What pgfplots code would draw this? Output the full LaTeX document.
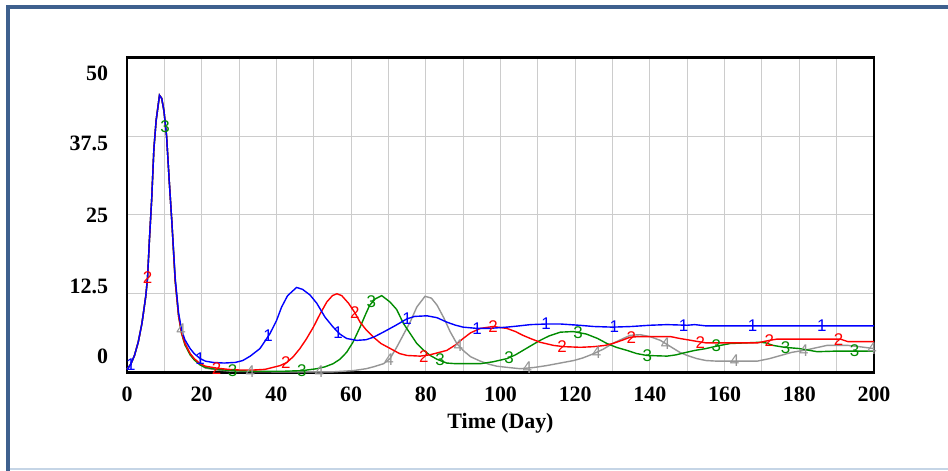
\documentclass[border=0pt]{standalone}
\usepackage{pgfplots}
\pgfplotsset{compat=1.18}
\usepackage{fontspec}
\setmainfont{Liberation Serif}
\newfontfamily\markfont{Liberation Sans}
\definecolor{framedark}{RGB}{62,96,142}
\definecolor{framelight}{RGB}{197,213,230}
\definecolor{gridgray}{RGB}{204,204,204}
\definecolor{sone}{RGB}{0,0,255}
\definecolor{stwo}{RGB}{255,0,0}
\definecolor{sthree}{RGB}{0,140,0}
\definecolor{sfour}{RGB}{150,150,150}
\pgfplotstableread{
x y
0 0.5
1 1.3
2 2.7
3 4.8
4 7.8
5 12
5.5 15
6 21
6.6 27.4
7.2 35.5
7.8 40
8.7 44
9.3 43.5
9.9 41.5
10.6 37.5
11.3 30.5
12 24
12.9 15
13.8 9.5
14.6 6.8
15.5 5.2
16.9 3.8
18 3.0
19.6 2.2
21 1.8
23 1.6
26 1.5
29 1.6
31 1.9
33 2.6
35.6 3.8
38.3 6.2
40 8.2
41.4 10.4
43 12.2
45.4 13.5
47 13.2
49 12.3
50.8 11
53 8.8
55.2 7.2
57 6.1
58.8 5.4
61.5 5.1
64 5.2
66 5.6
68.6 6.4
72 7.5
74.9 8.5
77 8.9
80.3 9.0
83 8.7
85.6 8.0
88 7.5
90 7.2
93.7 7.0
97 7.0
101.7 7.2
105 7.4
108 7.6
112.4 7.7
116 7.7
121 7.5
125 7.3
130 7.2
135 7.3
140 7.5
144.6 7.6
150 7.5
152 7.6
155 7.4
160 7.4
170 7.4
180 7.4
190 7.4
200 7.4
}\serone
\pgfplotstableread{
x y
0 0.5
1 1.3
2 2.7
3 4.8
4 7.8
5 12
5.5 15
6 21
6.6 27.4
7.2 35.5
7.8 40
8.7 44
9.3 43.5
9.9 41.5
10.6 37.5
11.3 30.5
12 24
12.9 14.5
13.8 9
14.6 6.3
15.5 4.6
16.9 3.0
18 2.2
19.6 1.4
21 1.0
24 0.7
27 0.5
30 0.4
34 0.4
37 0.5
39 0.8
41 1.1
42.8 1.6
44.5 2.5
46.3 3.8
48 5.3
49.9 7.2
51.7 9.3
53.5 11.2
55 12.2
56.2 12.5
57.5 12.2
59.3 11
61 9.5
62.4 8.0
64 6.8
66 5.6
68 4.6
70.5 3.8
73 3.0
75 2.7
78.5 2.6
81 2.8
83 3.1
85.6 3.5
88 4.4
90 5.4
92 6.3
94.6 7.0
98 7.3
101.7 7.0
104 6.5
106 5.9
108 5.4
110.6 4.8
114.2 4.3
117 4.1
121.4 4.0
125 4.1
128 4.3
130 4.6
132.5 5.1
134.7 5.6
137 5.7
141 5.7
145.5 5.7
148 5.4
152 5.0
155 4.7
160 4.7
168.8 4.7
172 5.1
174 5.3
180 5.3
191 5.3
193 4.9
200 4.9
}\sertwo
\pgfplotstableread{
x y
0 0.5
1 1.3
2 2.7
3 4.8
4 7.8
5 12
5.5 15
6 21
6.6 27.4
7.2 35.5
7.8 40
8.7 44
9.3 43.5
9.9 41.5
10.6 37.5
11.3 30.5
12 24
12.9 14.5
13.8 9
14.6 6.2
15.5 4.4
16.9 2.8
18 2.0
19.6 1.2
21 0.8
24 0.5
28 0.3
35 0.2
42 0.2
47 0.3
50.8 0.6
53 0.9
55.2 1.4
57 2.1
58.8 3.2
60.5 4.8
62.4 7.2
64 9.4
65 10.7
66.5 11.7
68.2 12.2
70.4 11.2
72.2 10.0
74 7.8
75.8 6.2
77.6 4.6
79.5 3.5
81.2 2.7
83 2.1
85.6 1.5
88 1.4
94.6 1.4
98 1.7
101.7 2.2
104 2.8
106 3.5
108 4.2
110.6 5.1
113 5.8
116 6.4
119.5 6.5
123 6.1
126 5.4
128.5 4.6
131 4.0
133.9 3.5
136.5 3.0
139.2 2.7
144.6 2.6
147 2.8
149 3.1
152 3.5
155 3.8
158 4.2
161.5 4.6
169.6 4.8
171 4.7
173 4.3
176 4.0
180 3.8
184.8 3.3
190 3.4
195 3.4
200 3.4
}\serthree
\pgfplotstableread{
x y
0 0.5
1 1.3
2 2.7
3 4.8
4 7.8
5 12
5.5 15
6 21
6.6 27.4
7.2 35.5
7.8 40
8.7 44
9.3 43.5
9.9 41.5
10.6 37.5
11.3 30.5
12 24
12.9 14.8
13.8 9.3
14.6 6.6
15.5 4.8
16.9 3.0
18 2.1
19.6 1.2
21 0.7
24 0.4
28 0.2
40 0.1
55 0.1
60.6 0.3
64 0.6
66 0.9
68.7 1.4
70.4 2.2
72.2 4.0
74 6
75.8 8.0
77.6 10.4
79.8 12.1
81.5 11.8
83 10.7
84.8 8.7
86.5 6.5
88.3 4.6
90 3.5
92 2.5
94.6 1.8
97 1.3
99 1.0
102 0.8
105.3 0.6
109 0.8
112.4 1.1
116 1.5
119.6 1.9
122 2.3
125 3.0
127.5 3.7
130 4.6
132.5 5.3
134.7 5.9
137.4 6.0
140 5.7
142.8 5.1
145 4.3
148 3.2
150 2.7
152.6 2.2
155 1.9
158 1.8
168.7 1.8
172 2.2
175 2.7
178 3.2
182 3.6
187.4 4.3
193 4.3
196 4.1
200 3.8
}\serfour
\begin{document}
\begin{tikzpicture}
\useasboundingbox (0,0) rectangle (948bp,471bp);
\fill[white] (0,0) rectangle (948bp,471bp);
\draw[framedark, line width=4bp] (7.5bp,0) -- (7.5bp,463.5bp) -- (948bp,463.5bp);
\draw[framelight, line width=2bp] (9.5bp,2bp) -- (948bp,2bp);
\begin{axis}[
  at={(127bp,98.5bp)}, anchor=south west,
  scale only axis, width=747bp, height=315bp,
  xmin=0, xmax=200, ymin=0, ymax=50,
  clip=false,
  axis line style={line width=2.2bp, black},
  xtick={0,20,...,200}, minor x tick num=1,
  xmajorgrids=true, xminorgrids=true,
  ytick={0,12.5,25,37.5,50}, yticklabels={}, ymajorgrids=true,
  major tick length=0pt, minor tick length=0pt,
  grid style={gridgray, line width=1bp},
  minor grid style={gridgray, line width=1bp},
  /pgf/number format/assume math mode=true,
  tick label style={font=\fontsize{22}{22}\selectfont\bfseries},
  xticklabel style={inner sep=0pt, anchor=north, yshift=-14bp},
  yticklabel style={inner sep=0pt, anchor=east, xshift=-18.7bp},
  extra y ticks={2.5,13.6,25,36.4,47.5},
  extra y tick labels={0,12.5,25,37.5,50},
  extra y tick style={grid=none, major tick length=0pt},
  xlabel={Time (Day)},
  xlabel style={font=\fontsize{22}{22}\selectfont\bfseries, at={(axis description cs:0.5,0)}, anchor=base, yshift=-55.5bp, inner sep=0pt},
  every axis plot/.append style={line width=1.4bp},
]
\addplot[sfour, no marks] table {\serfour};
\addplot[sthree, no marks] table {\serthree};
\addplot[stwo, no marks] table {\sertwo};
\addplot[sone, no marks] table {\serone};
\addplot[sone, only marks, mark=text, text mark={1}, text mark as node=true, text mark style={font=\markfont\fontsize{17}{17}\selectfont, inner sep=0pt}] coordinates {
(1,1.3) (19.6,2.2) (37.8,5.9) (56.5,6.4) (75,8.5) (93.7,7.0) (112.2,7.7) (130.5,7.2) (149,7.5) (167.5,7.4) (186,7.4)};
\addplot[stwo, only marks, mark=text, text mark={2}, text mark as node=true, text mark style={font=\markfont\fontsize{17}{17}\selectfont, inner sep=0pt}] coordinates {
(5.5,15) (24,0.7) (42.5,1.5) (61,9.5) (79.5,2.6) (98,7.3) (116.5,4.1) (135,5.6) (153.5,4.8) (172,5.1) (190.5,5.3)};
\addplot[sthree, only marks, mark=text, text mark={3}, text mark as node=true, text mark style={font=\markfont\fontsize{17}{17}\selectfont, inner sep=0pt}] coordinates {
(10.2,39) (28.3,0.3) (46.8,0.3) (65.4,11.2) (83.8,2.0) (102.3,2.4) (120.8,6.4) (139.3,2.7) (157.8,4.2) (176.3,4.0) (194.8,3.4)};
\addplot[sfour, only marks, mark=text, text mark={4}, text mark as node=true, text mark style={font=\markfont\fontsize{17}{17}\selectfont, inner sep=0pt}] coordinates {
(14.5,6.8) (33,0.15) (51.5,0.1) (70.2,2.1) (88.7,4.3) (107.2,0.7) (125.7,3.1) (144.2,4.6) (162.7,1.8) (181.2,3.5) (199.5,3.8)};
\end{axis}
\end{tikzpicture}
\end{document}
